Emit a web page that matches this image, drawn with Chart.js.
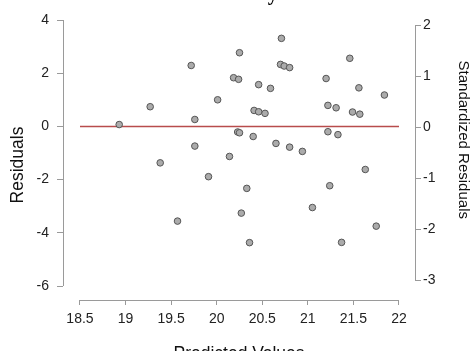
<!DOCTYPE html>
<html>
<head>
<meta charset="utf-8">
<script src="https://cdn.jsdelivr.net/npm/chart.js@4"></script>
<style>
  html, body { margin: 0; padding: 0; background: #fff; overflow: hidden; }
  body { width: 474px; height: 351px; position: relative; }
  /* the reference is a crop: title cut at the top, x title cut at the bottom */
  #chart { position: absolute; left: 0; top: -20px; }
</style>
</head>
<body>
<canvas id="chart" width="474" height="386"></canvas>
<script>
// predicted values and residuals
const predicted = [18.93, 19.27, 19.38, 19.57, 19.72, 19.76, 19.76, 19.91, 20.01, 20.14,
  20.185, 20.24, 20.23, 20.25, 20.25, 20.27, 20.33, 20.36, 20.40, 20.41,
  20.46, 20.53, 20.46, 20.59, 20.65, 20.71, 20.70, 20.74, 20.80, 20.80,
  20.94, 21.05, 21.20, 21.22, 21.31, 21.22, 21.33, 21.24, 21.37, 21.46,
  21.49, 21.57, 21.56, 21.63, 21.75, 21.84];
const residuals = [0.07, 0.74, -1.37, -3.56, 2.29, 0.26, -0.74, -1.89, 1.00, -1.13,
  1.83, 1.77, -0.21, -0.24, 2.77, -3.26, -2.33, -4.37, -0.38, 0.60,
  0.55, 0.49, 1.57, 1.43, -0.64, 3.31, 2.33, 2.27, 2.21, -0.78,
  -0.94, -3.05, 1.80, 0.79, 0.70, -0.20, -0.31, -2.23, -4.36, 2.56,
  0.54, 0.46, 1.45, -1.62, -3.75, 1.18];

const xTicks = [18.5, 19, 19.5, 20, 20.5, 21, 21.5, 22];
const residTicks = [-6, -4, -2, 0, 2, 4];
const stdTicks = [-3, -2, -1, 0, 1, 2];
const zeroLine = [18.5, 22];

const axisColor = '#9a9a9a';
const sans = '"Liberation Sans", Arial, sans-serif';
const labelFont = { family: sans, size: 14 };

// R style axis lines (first to last tick only) and the two side titles
const axisLines = {
  id: 'axisLines',
  afterDraw(chart) {
    const { ctx, chartArea, scales } = chart;
    ctx.save();
    ctx.strokeStyle = axisColor;
    ctx.lineWidth = 1;
    ctx.beginPath();
    const by = Math.round(chartArea.bottom) + 0.5;
    ctx.moveTo(scales.x.getPixelForValue(xTicks[0]), by);
    ctx.lineTo(scales.x.getPixelForValue(xTicks[xTicks.length - 1]), by);
    const lx = Math.round(chartArea.left) + 0.5;
    ctx.moveTo(lx, scales.y.getPixelForValue(residTicks[0]));
    ctx.lineTo(lx, scales.y.getPixelForValue(residTicks[residTicks.length - 1]));
    const rx = Math.round(chartArea.right) + 0.5;
    ctx.moveTo(rx, scales.y2.getPixelForValue(stdTicks[0]));
    ctx.lineTo(rx, scales.y2.getPixelForValue(stdTicks[stdTicks.length - 1]));
    ctx.stroke();

    ctx.fillStyle = '#111';
    ctx.textAlign = 'center';
    ctx.textBaseline = 'middle';
    // left title
    ctx.save();
    ctx.translate(18.5, scales.y.getPixelForValue(-1.45));
    ctx.rotate(-Math.PI / 2);
    ctx.font = '17.5px ' + sans;
    ctx.fillText('Residuals', 0, 0);
    ctx.restore();
    // right title
    ctx.save();
    ctx.translate(463, scales.y2.getPixelForValue(-0.25));
    ctx.rotate(Math.PI / 2);
    ctx.font = '15px ' + sans;
    ctx.fillText('Standardized Residuals', 0, 0);
    ctx.restore();
    ctx.restore();
  }
};

const points = predicted.map((v, i) => ({ x: v, y: residuals[i] }));

new Chart(document.getElementById('chart'), {
  type: 'scatter',
  data: {
    datasets: [
      {
        type: 'line',
        data: zeroLine.map(v => ({ x: v, y: 0 })),
        borderColor: '#b84c4c',
        borderWidth: 1.5,
        pointRadius: 0,
        order: 2
      },
      {
        data: points,
        backgroundColor: '#ababab',
        borderColor: '#555',
        borderWidth: 1,
        pointRadius: 3.3,
        order: 1
      }
    ]
  },
  options: {
    responsive: false,
    devicePixelRatio: 1,
    animation: false,
    layout: { padding: 0 },
    plugins: {
      legend: { display: false },
      tooltip: { enabled: false },
      title: {
        display: true,
        text: 'Standardized Residuals by Predicted Values',
        color: '#000',
        font: { family: '"Liberation Serif", "Times New Roman", serif', size: 20.5, weight: 'bold' },
        padding: { top: 2.7, bottom: 6.7 }
      }
    },
    scales: {
      x: {
        type: 'linear',
        position: 'bottom',
        min: 18.3135,
        max: 22.1756,
        afterBuildTicks: s => { s.ticks = xTicks.map(v => ({ value: v })); },
        afterFit: s => { s.height = 66; },
        ticks: { color: '#222', font: labelFont, padding: 6, maxRotation: 0, autoSkip: false, callback: v => String(v) },
        grid: { drawOnChartArea: false, tickLength: 5, color: axisColor },
        border: { display: false },
        title: { display: true, text: 'Predicted Values', color: '#111', font: { family: sans, size: 17.5 }, padding: { top: 0, bottom: 1 } }
      },
      y: {
        type: 'linear',
        position: 'left',
        min: -6.5263,
        max: 4.2256,
        afterBuildTicks: s => { s.ticks = residTicks.map(v => ({ value: v })); },
        afterFit: s => { s.width = 63; },
        ticks: { color: '#222', font: labelFont, padding: 8, autoSkip: false, callback: v => String(v) },
        grid: { drawOnChartArea: false, tickLength: 6, color: axisColor },
        border: { display: false }
      },
      y2: {
        type: 'linear',
        position: 'right',
        display: true,
        min: -3.392,
        max: 2.2157,
        afterBuildTicks: s => { s.ticks = stdTicks.map(v => ({ value: v })); },
        afterFit: s => { s.width = 59; },
        ticks: { color: '#222', font: labelFont, padding: 2, autoSkip: false, callback: v => String(v) },
        grid: { drawOnChartArea: false, tickLength: 6, color: axisColor },
        border: { display: false }
      }
    }
  },
  plugins: [axisLines]
});
</script>
</body>
</html>
